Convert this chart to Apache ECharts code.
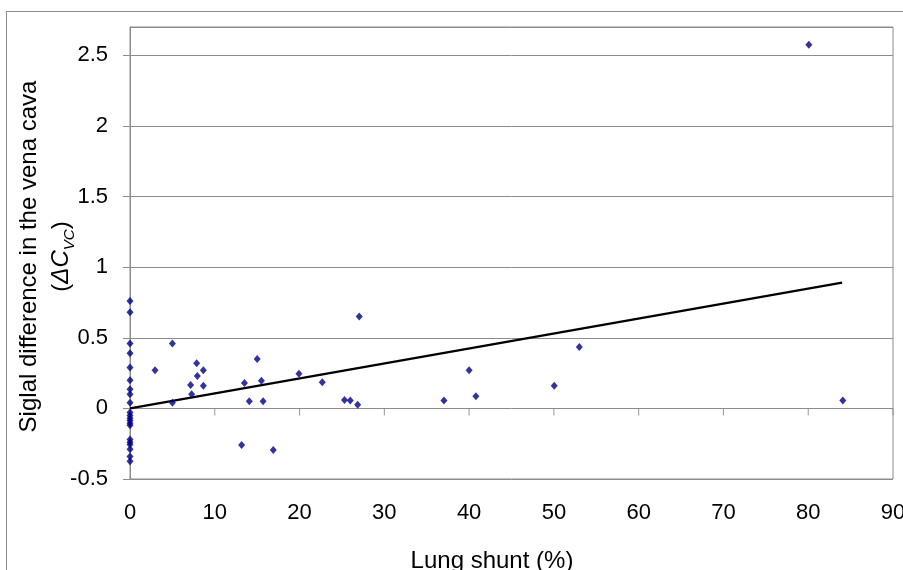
<!DOCTYPE html>
<html>
<head>
<meta charset="utf-8">
<script src="https://cdn.jsdelivr.net/npm/echarts@6/dist/echarts.min.js"></script>
<style>
  html, body { margin: 0; padding: 0; background: #fff; }
  #wrap { position: relative; width: 903px; height: 570px; overflow: hidden; }
  /* chart-area border, runs past the right and bottom edges */
  #frame { position: absolute; left: 6px; top: 11px; width: 1000px; height: 1000px; border: 1px solid #8c8c8c; }
  #chart { position: absolute; left: 0; top: 0; width: 903px; height: 570px; }
</style>
</head>
<body>
<div id="wrap">
  <div id="frame"></div>
  <div id="chart"></div>
</div>
<script>
// Lung shunt (%) vs signal difference in the vena cava
const shunt = [
  0, 0, 0, 0, 0, 0, 0, 0, 0, 0, 0, 0, 0, 0, 0, 0, 0, 0, 0, 0, 0,
  2.95, 5.0, 5.0, 7.86, 7.15, 7.94, 8.65, 8.65, 7.27,
  13.5, 14.07, 15.0, 15.5, 15.7, 13.17, 16.9, 19.93,
  22.68, 25.3, 25.98, 26.85, 27.04,
  37.03, 40.0, 40.8, 50.04, 53.0, 80.07, 84.08
]
const deltaCvc = [
  0.76, 0.68, 0.46, 0.39, 0.29, 0.20, 0.135, 0.10, 0.04, -0.03, -0.05, -0.07, -0.085, -0.105, -0.12, -0.22, -0.24, -0.255, -0.29, -0.34, -0.375,
  0.27, 0.46, 0.04, 0.32, 0.165, 0.23, 0.27, 0.16, 0.10,
  0.18, 0.05, 0.35, 0.195, 0.05, -0.26, -0.295, 0.245,
  0.185, 0.06, 0.055, 0.025, 0.65,
  0.055, 0.27, 0.085, 0.16, 0.435, 2.575, 0.055
]

// linear trendline end points
const trendX = [0, 84]
const trendY = [0.0, 0.89]

// x axis crosses at y = 0, tick marks sit on that line
const xTickValues = [0, 10, 20, 30, 40, 50, 60, 70, 80, 90]

const xTicks = { min: 0, max: 90, step: 10 }
const yTicks = { min: -0.5, max: 2.7, step: 0.5 }

const font = '"Liberation Sans", Arial, sans-serif'
const gray = '#8c8c8c'

const chart = echarts.init(document.getElementById('chart'))

chart.setOption({
  animation: false,
  textStyle: { fontFamily: font },
  grid: {
    left: 130, right: 10, top: 27, bottom: 91,
    outerBoundsMode: 'none', containLabel: false,
    show: true, borderColor: gray, borderWidth: 1
  },
  xAxis: {
    type: 'value',
    min: xTicks.min, max: xTicks.max, interval: xTicks.step,
    axisLine: { show: false },
    axisTick: { show: false },
    axisLabel: { margin: 23, fontSize: 22, color: '#000', fontFamily: font },
    splitLine: { show: false }
  },
  yAxis: {
    type: 'value',
    min: yTicks.min, max: yTicks.max, interval: yTicks.step,
    axisLine: { show: true, onZero: false, lineStyle: { color: gray, width: 1 } },
    axisTick: { show: true, length: 7, lineStyle: { color: gray } },
    axisLabel: { margin: 22, fontSize: 22, color: '#000', fontFamily: font, showMaxLabel: false },
    splitLine: { show: true, lineStyle: { color: gray, width: 1 } },
    name: '{a|Siglal difference in the vena cava}\n{a|(}{i|ΔC}{s|VC}{a|)}',
    nameLocation: 'middle',
    nameRotate: 90,
    nameGap: 53,
    nameMoveOverlap: false,
    nameTextStyle: {
      padding: [0, 7, 0, 0],
      rich: {
        a: { fontSize: 24, fontFamily: font, color: '#000', lineHeight: 32 },
        i: { fontSize: 24, fontFamily: font, color: '#000', fontStyle: 'italic', lineHeight: 32 },
        s: { fontSize: 15, fontFamily: font, color: '#000', fontStyle: 'italic', lineHeight: 32, verticalAlign: 'bottom', padding: [8, 0, 0, 0] }
      }
    }
  },
  graphic: [
    {
      type: 'text',
      x: 492, y: 561,
      style: { text: 'Lung shunt (%)', font: '24px ' + font, fill: '#000', textAlign: 'center', textVerticalAlign: 'middle' }
    }
  ],
  series: [
    {
      // x-axis tick marks on the zero line
      type: 'scatter',
      symbol: 'rect',
      symbolSize: [1, 7],
      symbolOffset: [0, 3.5],
      silent: true,
      itemStyle: { color: '#808080' },
      data: xTickValues.map((x) => [x, 0]),
      z: 1
    },
    {
      type: 'scatter',
      symbol: 'diamond',
      symbolSize: [7, 8],
      itemStyle: { color: '#000088' },
      data: shunt.map((x, i) => [x, deltaCvc[i]]),
      z: 3
    },
    {
      type: 'line',
      data: trendX.map((x, i) => [x, trendY[i]]),
      showSymbol: false,
      lineStyle: { color: '#000', width: 2.4 },
      z: 2
    }
  ]
})
</script>
</body>
</html>
